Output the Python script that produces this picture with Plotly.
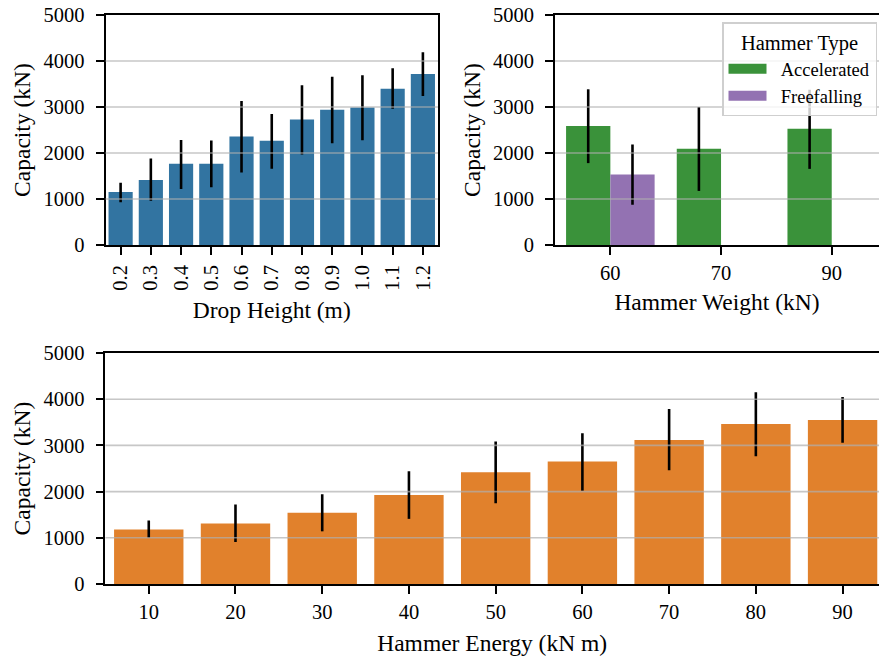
import plotly.graph_objects as go

# ---- data ----
drop_height = ["0.2", "0.3", "0.4", "0.5", "0.6", "0.7", "0.8", "0.9", "1.0", "1.1", "1.2"]
cap_drop = [1150, 1415, 1765, 1765, 2360, 2265, 2730, 2940, 2990, 3395, 3715]
cap_drop_lo = [930, 960, 1220, 1255, 1575, 1660, 1965, 2210, 2275, 2960, 3240]
cap_drop_hi = [1355, 1880, 2285, 2270, 3130, 2850, 3475, 3660, 3690, 3845, 4190]

hammer_weight = ["60", "70", "90"]
acc_weight = ["60", "70", "90"]
cap_acc = [2585, 2090, 2525]
cap_acc_lo = [1780, 1175, 1655]
cap_acc_hi = [3385, 3000, 3375]
free_weight = ["60"]
cap_free = [1530]
cap_free_lo = [875]
cap_free_hi = [2185]

hammer_energy = ["10", "20", "30", "40", "50", "60", "70", "80", "90"]
cap_energy = [1178, 1308, 1540, 1925, 2420, 2650, 3115, 3465, 3550]
cap_energy_lo = [995, 910, 1140, 1410, 1750, 2020, 2460, 2765, 3055]
cap_energy_hi = [1372, 1720, 1945, 2440, 3085, 3265, 3790, 4150, 4050]

y_ticks = [0, 1000, 2000, 3000, 4000, 5000]
grid_vals = [1000, 2000, 3000, 4000]

BLUE = "#3274a1"
ORANGE = "#e1812c"
GREEN = "#3a923a"
PURPLE = "#9372b2"
FONT = "Liberation Serif"


def err(v, lo, hi):
    return dict(type="data", symmetric=False,
                array=[h - a for a, h in zip(v, hi)],
                arrayminus=[a - l for a, l in zip(v, lo)],
                color="black", thickness=2.6, width=0)


fig = go.Figure()
fig.add_trace(go.Bar(x=drop_height, y=cap_drop, marker_color=BLUE, marker_line_width=0,
                     error_y=err(cap_drop, cap_drop_lo, cap_drop_hi),
                     showlegend=False, xaxis="x", yaxis="y"))
fig.add_trace(go.Bar(x=acc_weight, y=cap_acc, marker_color=GREEN, marker_line_width=0,
                     error_y=err(cap_acc, cap_acc_lo, cap_acc_hi), name="Accelerated",
                     offsetgroup="a", showlegend=False, xaxis="x2", yaxis="y2"))
fig.add_trace(go.Bar(x=free_weight, y=cap_free, marker_color=PURPLE, marker_line_width=0,
                     error_y=err(cap_free, cap_free_lo, cap_free_hi), name="Freefalling",
                     offsetgroup="b", showlegend=False, xaxis="x2", yaxis="y2"))
fig.add_trace(go.Bar(x=hammer_energy, y=cap_energy, marker_color=ORANGE, marker_line_width=0,
                     error_y=err(cap_energy, cap_energy_lo, cap_energy_hi),
                     showlegend=False, xaxis="x3", yaxis="y3"))
# legend entries (wide patches)
for nm, col in [("Accelerated", GREEN), ("Freefalling", PURPLE)]:
    fig.add_trace(go.Scatter(x=[None], y=[None], mode="lines", name="\u00a0\u00a0" + nm,
                             line=dict(color=col, width=13), xaxis="x2", yaxis="y2"))

W, H = 879, 656
top_dom = [(H - 245) / H, (H - 15) / H]
bot_dom = [(H - 584) / H, (H - 353) / H]

axis_common = dict(showline=True, linecolor="black", linewidth=1.8, ticks="outside",
                   ticklen=8, tickwidth=1.8, tickcolor="black",
                   tickfont=dict(family=FONT, size=20.5, color="black"),
                   showgrid=False, zeroline=False)
TF = dict(family=FONT, size=23.5, color="black")
ytitle = dict(text="Capacity (kN)", font=TF, standoff=6)

fig.update_layout(
    width=W, height=H, margin=dict(l=0, r=0, t=0, b=0, autoexpand=False),
    plot_bgcolor="white", paper_bgcolor="white",
    barmode="group", bargap=0.2, bargroupgap=0,
    font=dict(family=FONT, color="black"),
    xaxis=dict(domain=[105.5 / W, 438 / W], anchor="y", type="category", range=[-0.5, 10.5],
               mirror=True, tickangle=-90, ticklabelstandoff=2,
               title=dict(text="Drop Height (m)", font=TF, standoff=12),
               **axis_common),
    yaxis=dict(domain=top_dom, anchor="x", range=[0, 5000], tickvals=y_ticks, mirror=True,
               ticklabelstandoff=7, title=ytitle, **axis_common),
    xaxis2=dict(domain=[555 / W, 1.0], anchor="y2", type="category", range=[-0.5, 2.427],
                categoryorder="array", categoryarray=hammer_weight, mirror=True,
                title=dict(text="Hammer Weight (kN)", font=TF, standoff=11),
                **axis_common),
    yaxis2=dict(domain=top_dom, anchor="x2", range=[0, 5000], tickvals=y_ticks,
                ticklabelstandoff=7, title=ytitle, **axis_common),
    xaxis3=dict(domain=[105.4 / W, 1.0], anchor="y3", type="category", range=[-0.5, 8.42],
                mirror=True,
                title=dict(text="Hammer Energy (kN m)", font=TF, standoff=13),
                **axis_common),
    yaxis3=dict(domain=bot_dom, anchor="x3", range=[0, 5000], tickvals=y_ticks,
                ticklabelstandoff=7, title=ytitle, **axis_common),
    legend=dict(x=877 / W, y=(H - 22) / H, xanchor="right", yanchor="top",
                bgcolor="rgba(255,255,255,0.8)", bordercolor="#cfcfcf", borderwidth=1.5,
                font=dict(family=FONT, size=18.5, color="black"),
                title=dict(text="Hammer Type", side="top center",
                           font=dict(family=FONT, size=20.5, color="black")),
                itemwidth=38, tracegroupgap=0),
)

shapes = []
for xr, yr in [("x domain", "y"), ("x2 domain", "y2"), ("x3 domain", "y3")]:
    for g in grid_vals:
        shapes.append(dict(type="line", xref=xr, yref=yr, x0=0, x1=1, y0=g, y1=g,
                           line=dict(color="rgba(175,175,175,0.7)", width=1.6), layer="above"))
fig.update_layout(shapes=shapes)

fig.write_html("out.html", config={"displayModeBar": False},
               post_script="document.body.style.margin='0';document.body.style.overflow='hidden';")
